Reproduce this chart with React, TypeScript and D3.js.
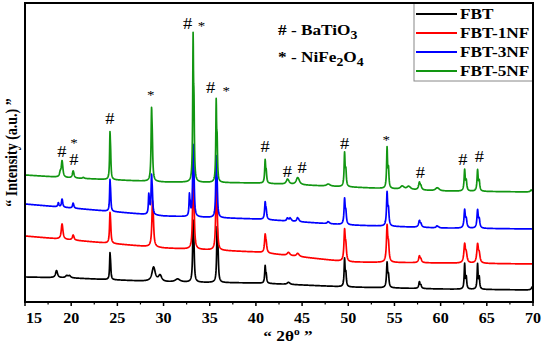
import React from "react";
import * as d3 from "d3";

const W = 543;
const H = 346;

const seriesNames = ["FBT", "FBT-1NF", "FBT-3NF", "FBT-5NF"];
const seriesColors = ["#000000", "#ff0000", "#0000ff", "#129612"];

// background (intensity a.u.) sampled at these 2θ angles
const baselineAngles = [15, 20, 30, 40, 50, 60, 70];
const baselineFBT = [25, 24, 20, 19, 15, 13, 12];
const baseline1NF = [66, 62, 54, 50, 40, 39, 38];
const baseline3NF = [98, 94, 86, 83, 77, 74, 73];
const baseline5NF = [127, 124, 120, 119, 115, 111, 110];

// peaks: [2θ, height above background, half width]
const peaksFBT: [number, number, number][] = [
  [18.4, 7, 0.12], [19.5, 2, 0.15], [19.8, 2, 0.15], [24.2, 27, 0.05],
  [28.9, 14, 0.2], [29.6, 6, 0.2], [31.5, 3, 0.3], [33.2, 62, 0.06],
  [35.8, 56, 0.06], [41.0, 18, 0.06], [43.5, 2, 0.15], [49.6, 29, 0.06],
  [54.2, 26, 0.07], [57.7, 7, 0.08], [62.6, 26, 0.06], [64.0, 26, 0.06],
  [69.9, 3, 0.1],
];
const peaks1NF: [number, number, number][] = [
  [19.0, 15, 0.1], [20.2, 5, 0.1], [24.2, 31, 0.06], [28.8, 46, 0.08],
  [33.2, 76, 0.07], [35.7, 66, 0.07], [41.0, 19, 0.08], [43.5, 3, 0.15],
  [44.5, 3, 0.15], [49.6, 33, 0.08], [54.2, 38, 0.08], [57.7, 7, 0.1],
  [62.6, 20, 0.1], [64.0, 20, 0.1],
];
const peaks3NF: [number, number, number][] = [
  [18.6, 4, 0.06], [19.0, 8, 0.07], [20.2, 5, 0.07], [24.2, 32, 0.05],
  [28.4, 20, 0.05], [28.7, 40, 0.06], [32.8, 22, 0.05], [33.2, 72, 0.06],
  [35.7, 62, 0.06], [41.0, 18, 0.07], [43.4, 3, 0.08], [43.7, 3, 0.08],
  [44.5, 4, 0.1], [47.8, 2, 0.1], [49.6, 27, 0.07], [54.2, 35, 0.07],
  [57.7, 7, 0.1], [59.6, 2, 0.1], [62.6, 19, 0.08], [64.0, 19, 0.08],
];
const peaks5NF: [number, number, number][] = [
  [18.8, 4, 0.08], [19.0, 16, 0.09], [20.2, 7, 0.09], [21.3, 1, 0.1],
  [24.2, 48, 0.05], [28.7, 74, 0.06], [33.2, 150, 0.05], [35.7, 84, 0.05],
  [41.0, 24, 0.06], [43.4, 5, 0.15], [44.5, 7, 0.18], [47.8, 2, 0.2],
  [49.6, 35, 0.06], [54.2, 42, 0.06], [55.8, 3, 0.2], [56.5, 3, 0.2],
  [57.7, 8, 0.1], [59.6, 3, 0.2], [62.6, 22, 0.07], [64.0, 22, 0.07],
  [69.8, 2, 0.1],
];

const baselines = [baselineFBT, baseline1NF, baseline3NF, baseline5NF];
const peakSets = [peaksFBT, peaks1NF, peaks3NF, peaks5NF];

const xTickValues = [15, 20, 25, 30, 35, 40, 45, 50, 55, 60, 65, 70];
const xMinorValues = [17.5, 22.5, 27.5, 32.5, 37.5, 42.5, 47.5, 52.5, 57.5, 62.5, 67.5];

// peak markers: [label, 2θ, intensity]
const markers: [string, number, number][] = [
  ["#", 19.0, 145], ["*", 20.3, 155], ["#", 20.3, 137], ["#", 24.2, 178],
  ["*", 28.6, 203], ["#", 32.6, 273], ["*", 34.1, 272], ["#", 35.1, 209],
  ["*", 36.8, 207], ["#", 41.0, 150], ["#", 43.4, 125], ["#", 45.0, 129],
  ["#", 49.6, 153], ["*", 54.1, 158], ["#", 57.8, 124], ["#", 62.4, 137],
  ["#", 64.2, 140],
];

const legendNote1 = "# - BaTiO";
const legendNote2 = "* - NiFe";

const margin = { left: 25, right: 10, top: 3, bottom: 44 };
const x = d3.scaleLinear().domain([15, 70]).range([margin.left, W - margin.right]);
const y = d3.scaleLinear().domain([0, 299]).range([H - margin.bottom, margin.top]);

const angles = d3.range(15, 70.0001, 0.02);

function profile(peaks: [number, number, number][], t: number) {
  let s = 0;
  for (const [p, h, w] of peaks) {
    const sep = 0.0028 * p;
    const k = 1 + 0.45 / (1 + (sep / w) * (sep / w));
    const hh = h / k;
    const d1 = (t - p) / w;
    const d2 = (t - (p + sep)) / w;
    s += hh / (1 + d1 * d1) + (0.45 * hh) / (1 + d2 * d2);
  }
  return s;
}

const SX = 1.15;

function SText(props: {
  x: number;
  y: number;
  size: number;
  bold?: boolean;
  anchor?: string;
  children: React.ReactNode;
}) {
  return (
    <text
      transform={`translate(${props.x},${props.y}) scale(${SX},1)`}
      fontSize={props.size}
      fontWeight={props.bold ? "bold" : "normal"}
      textAnchor={props.anchor || "start"}
      fill="#000"
    >
      {props.children}
    </text>
  );
}

export default function App() {
  const serif = "'Liberation Serif', 'Times New Roman', serif";
  const lineGen = d3
    .line<[number, number]>()
    .x((d) => x(d[0]))
    .y((d) => y(d[1]));

  const paths = seriesNames.map((_, i) => {
    const bg = d3.scaleLinear().domain(baselineAngles).range(baselines[i]);
    const pts: [number, number][] = angles.map((t) => [t, bg(t) + profile(peakSets[i], t)]);
    return lineGen(pts) || "";
  });

  const x0 = margin.left;
  const x1 = W - margin.right;
  const y0 = H - margin.bottom;
  const y1 = margin.top;

  const legX = 414;
  const legY = y1;
  const legW = x1 - legX;
  const legH = 78;

  return (
    <svg
      width={W}
      height={H}
      style={{ position: "absolute", left: 0, top: 0, background: "#fff" }}
      fontFamily={serif}
    >
      {paths.map((d, i) => (
        <path key={i} d={d} fill="none" stroke={seriesColors[i]} strokeWidth={1.7} strokeLinejoin="round" />
      ))}

      {markers.map(([lab, t, v], i) => (
        <SText key={i} x={x(t)} y={y(v)} size={lab === "#" ? 16 : 13} anchor="middle">
          {lab}
        </SText>
      ))}

      <SText x={278} y={35} size={15} bold>
        {legendNote1}
        <tspan fontSize={12} dy={4}>3</tspan>
      </SText>
      <SText x={278} y={62} size={15} bold>
        {legendNote2}
        <tspan fontSize={12} dy={4}>2</tspan>
        <tspan dy={-4}>O</tspan>
        <tspan fontSize={12} dy={4}>4</tspan>
      </SText>

      {/* legend */}
      <rect x={legX} y={legY} width={legW} height={legH} fill="#fff" stroke="#888" strokeWidth={1} />
      {seriesNames.map((n, i) => (
        <g key={n}>
          <line
            x1={legX + 2}
            x2={legX + 43}
            y1={legY + 11 + i * 19}
            y2={legY + 11 + i * 19}
            stroke={seriesColors[i]}
            strokeWidth={2}
          />
          <SText x={legX + 46} y={legY + 16 + i * 19} size={15} bold>
            {n}
          </SText>
        </g>
      ))}

      {/* frame */}
      <rect x={x0} y={y1} width={x1 - x0} height={y0 - y1} fill="none" stroke="#000" strokeWidth={2} />

      {/* ticks */}
      {xTickValues.map((t) => (
        <line key={"M" + t} x1={x(t)} x2={x(t)} y1={y0} y2={y0 + 4} stroke="#000" strokeWidth={1.5} />
      ))}
      {xMinorValues.map((t) => (
        <line key={"m" + t} x1={x(t)} x2={x(t)} y1={y0} y2={y0 + 2.5} stroke="#000" strokeWidth={1.2} />
      ))}
      {xTickValues.map((t, i) => (
        <SText
          key={"l" + t}
          x={i === 0 ? x(t) + 1 : x(t)}
          y={y0 + 21}
          anchor={i === 0 ? "start" : "middle"}
          size={14}
          bold
        >
          {t}
        </SText>
      ))}

      <SText x={288} y={341} anchor="middle" size={15} bold>
        {"\u201C 2\u03B8"}
        <tspan fontSize={10} dy={-6}>o</tspan>
        <tspan dy={6}>{" \u201D"}</tspan>
      </SText>
      <text
        transform={`translate(17,${(y0 + y1) / 2}) rotate(-90) scale(1,${SX})`}
        textAnchor="middle"
        fontSize={14}
        fontWeight="bold"
      >
        {"\u201C Intensity (a.u.) \u201D"}
      </text>
    </svg>
  );
}
